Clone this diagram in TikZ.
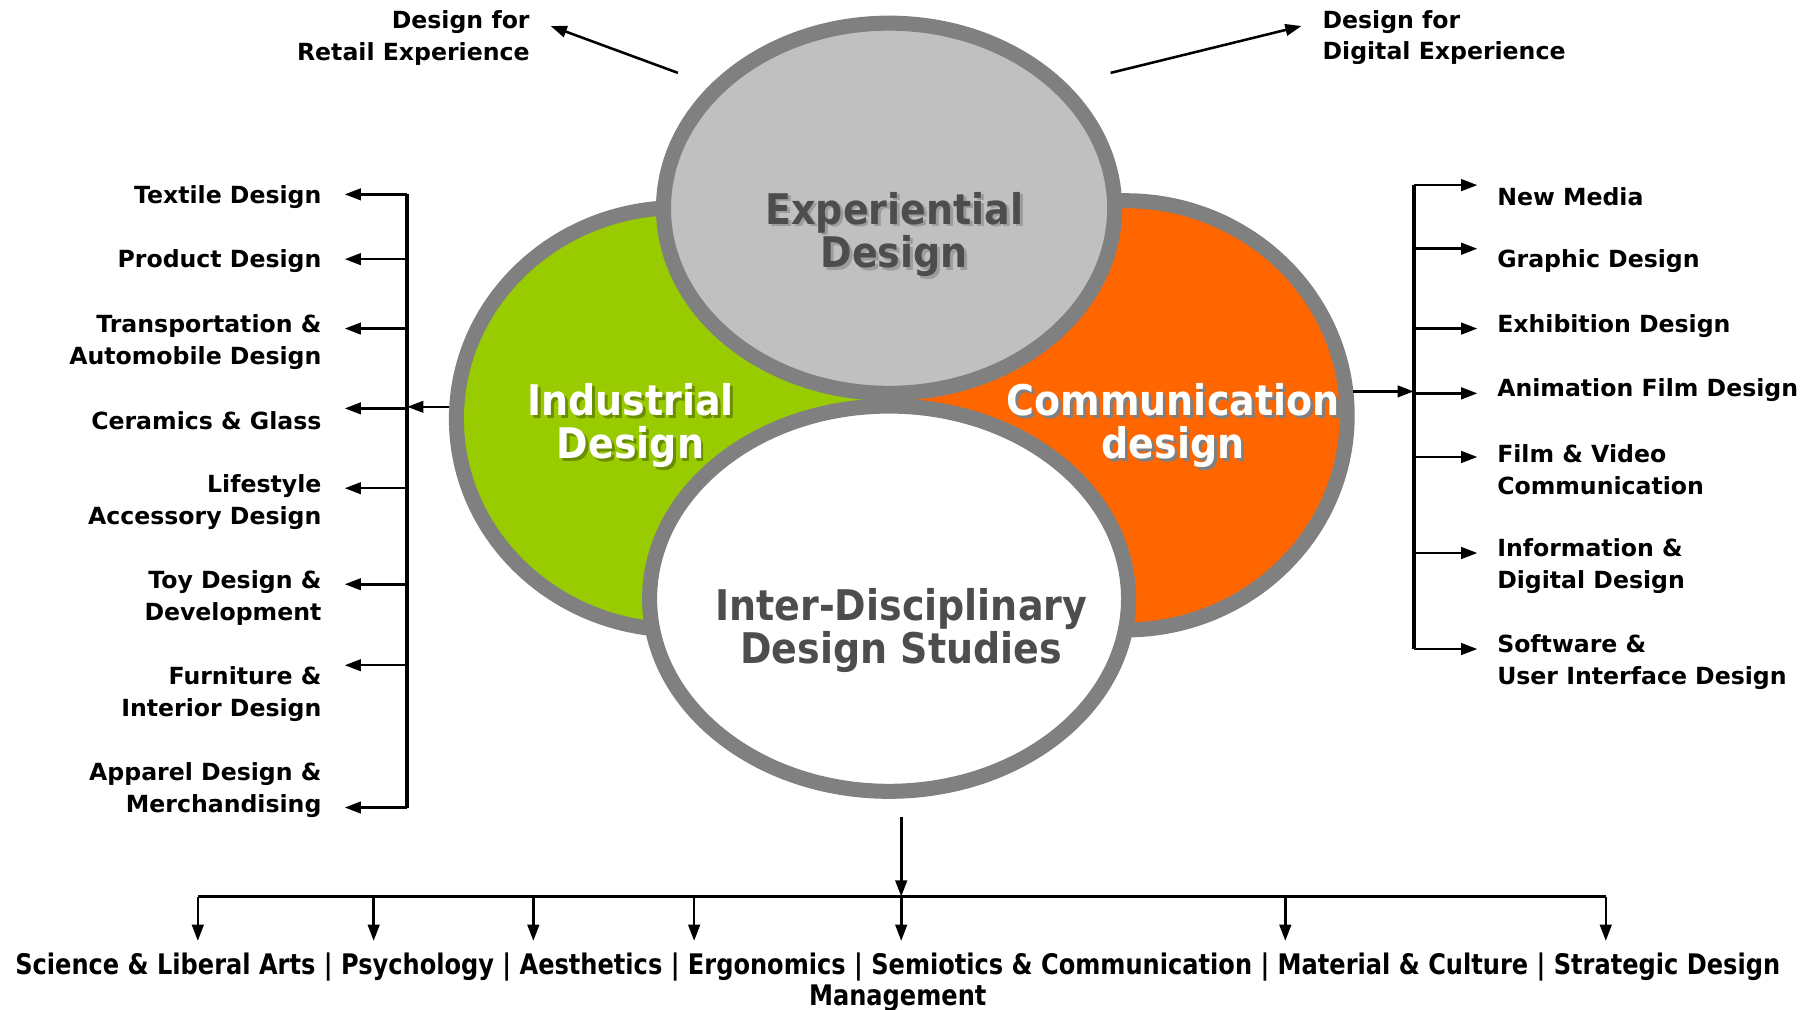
\documentclass[tikz,border=0pt]{standalone}
\usepackage{fontspec}
\setmainfont{DejaVu Sans}
\newfontfamily\circlefont{DejaVu Sans}[FakeStretch=0.9]
\newfontfamily\fieldfont{DejaVu Sans}[FakeStretch=0.85]
\usetikzlibrary{arrows.meta,shapes.geometric}

\definecolor{indgreen}{HTML}{99CC00}
\definecolor{comorange}{HTML}{FF6600}
\definecolor{expgrey}{HTML}{C0C0C0}
\definecolor{ringgrey}{HTML}{808080}
\definecolor{textgrey}{HTML}{4D4D4D}
\definecolor{expshade}{HTML}{9C9C9C}

\begin{document}
\begin{tikzpicture}[x=1pt,y=-1pt]
  \tikzstyle{ring}=[draw=ringgrey,line width=13pt,inner sep=0pt,ellipse]
  \tikzstyle{title}=[font=\circlefont\bfseries\fontsize{36.5}{37.5}\selectfont,align=center,inner sep=0pt]
  \tikzstyle{lab}=[font=\bfseries\fontsize{20.4}{27.5}\selectfont,inner sep=0pt]
  \tikzstyle{leftlab}=[lab,align=right,anchor=east]
  \tikzstyle{rightlab}=[lab,align=left,anchor=west]
  \tikzstyle{arr}=[line width=2.2pt,-{Triangle[length=14pt,width=10pt]}]
  \tikzstyle{spine}=[line width=3.2pt]
  \useasboundingbox (0,0) rectangle (1568,873);

  \node[ring,fill=indgreen,minimum width=383pt,minimum height=365pt] (ind) at (586,362) {};
  \node[ring,fill=comorange,minimum width=383pt,minimum height=371pt] (com) at (973,359) {};
  \node[ring,fill=expgrey,minimum width=390pt,minimum height=320pt] (exp) at (768.5,180) {};
  \node[ring,fill=white,minimum width=414pt,minimum height=333pt] (ids) at (768.5,517.5) {};

  \node[title,text=expshade] (exp-shade) at (775.5,205) {Experiential\\Design};
  \node[title,text=textgrey] (exp-text) at (773,202.5) {Experiential\\Design};
  \node[title,text=black,opacity=.3] (ind-shade) at (547.5,370.5) {Industrial\\Design};
  \node[title,text=white] (ind-text) at (545,368) {Industrial\\Design};
  \node[title,text=ringgrey] (com-shade) at (1016.5,370.5) {Communication\\design};
  \node[title,text=white] (com-text) at (1014,368) {Communication\\design};
  \node[title,text=textgrey] (ids-text) at (779,545) {Inter-Disciplinary\\Design Studies};

  \node[leftlab] (retail) at (458,32.5) {Design for\\Retail Experience};
  \node[rightlab] (digital) at (1143,32.5) {Design for\\Digital Experience};
  \coordinate (ret-out) at (586,63);
  \coordinate (dig-out) at (960,63);
  \draw[arr] (ret-out) -- ([xshift=18pt,yshift=10pt]retail.east);
  \draw[arr] (dig-out) -- ([xshift=-18pt,yshift=10pt]digital.west);

  \node[leftlab] (tex) at (278,170) {Textile Design};
  \node[leftlab] (pro) at (278,226) {Product Design};
  \node[leftlab] (tra) at (278,295.5) {Transportation \&\\Automobile Design};
  \node[leftlab] (cer) at (278,364) {Ceramics \& Glass};
  \node[leftlab] (lif) at (278,434) {Lifestyle\\Accessory Design};
  \node[leftlab] (toy) at (278,517) {Toy Design \&\\Development};
  \node[leftlab] (fur) at (278,600) {Furniture \&\\Interior Design};
  \node[leftlab] (app) at (278,683) {Apparel Design \&\\Merchandising};
  \foreach \n/\y in {tex/168,pro/224,tra/284,cer/353,lif/422,toy/505,fur/575,app/698}
  {
    \coordinate (lb-\n) at (352,\y);
    \draw[arr,shorten >=20pt] (lb-\n) -- (lb-\n -| \n.east);
  }
  \draw[spine] (lb-tex) -- (lb-app);
  \draw[arr] (ind.177) -- (ind.177 -| lb-cer);

  \node[rightlab] (new) at (1294,170) {New Media};
  \node[rightlab] (gra) at (1294,226) {Graphic Design};
  \node[rightlab] (exh) at (1294,282) {Exhibition Design};
  \node[rightlab] (ani) at (1294,337) {Animation Film Design};
  \node[rightlab] (fil) at (1294,406) {Film \& Video\\Communication};
  \node[rightlab] (inf) at (1294,489) {Information \&\\Digital Design};
  \node[rightlab] (sof) at (1294,572) {Software \&\\User Interface Design};
  \foreach \n/\y in {new/160,gra/215,exh/284,ani/340,fil/395,inf/478,sof/561}
  {
    \coordinate (rb-\n) at (1222,\y);
    \draw[arr,shorten >=17pt] (rb-\n) -- (rb-\n -| \n.west);
  }
  \draw[spine] (rb-new) -- (rb-sof);
  \draw[arr] (com.6) -- (com.6 -| rb-ani);

  \node[font=\fieldfont\bfseries\fontsize{24.5}{27}\selectfont,align=center,inner sep=0pt] (fields) at (776,849)
    {Science \& Liberal Arts | Psychology | Aesthetics | Ergonomics | Semiotics \& Communication | Material \& Culture | Strategic Design\\Management};
  \foreach \x [count=\i] in {171,323,461,600,779,1111,1388}
    \coordinate (d\i) at (\x,775);
  \draw[spine] (d1) -- (d7);
  \foreach \i in {1,...,7}
    \draw[arr,shorten >=10pt] (d\i) -- (d\i |- fields.north);
  \coordinate (ids-out) at (779,706);
  \draw[arr] (ids-out) -- (ids-out |- d5);
\end{tikzpicture}
\end{document}
